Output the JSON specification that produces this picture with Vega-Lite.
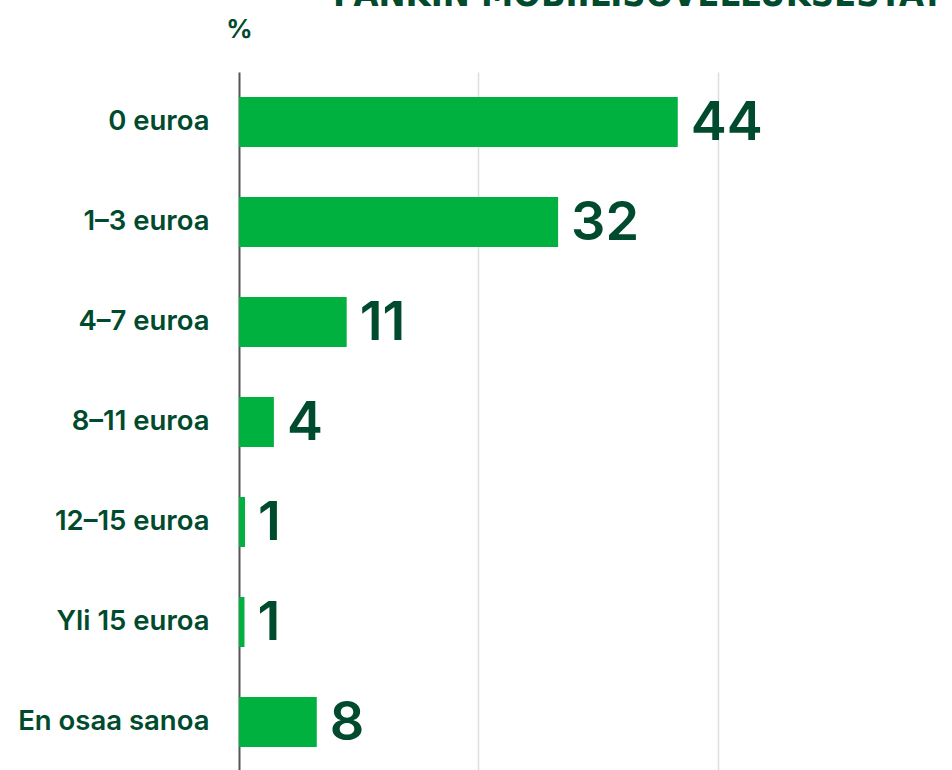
{
  "$schema": "https://vega.github.io/schema/vega-lite/v6.json",
  "width": 713,
  "height": 700,
  "autosize": {"type": "none"},
  "padding": {"left": 239, "top": 72, "right": 0, "bottom": 0},
  "background": "white",
  "title": {
    "text": "PANKIN MOBIILISOVELLUKSESTA?",
    "anchor": "start",
    "frame": "group",
    "orient": "top",
    "dx": 94,
    "dy": 29,
    "offset": 3,
    "font": "Liberation Sans Narrow, DejaVu Sans Condensed, Roboto",
    "fontSize": 36,
    "fontWeight": "bold",
    "color": "#004b2d",
    "baseline": "alphabetic"
  },
  "data": {
    "values": [
      {"vastaus": "0 euroa", "osuus": 44.0},
      {"vastaus": "1–3 euroa", "osuus": 32.0},
      {"vastaus": "4–7 euroa", "osuus": 10.8},
      {"vastaus": "8–11 euroa", "osuus": 3.5},
      {"vastaus": "12–15 euroa", "osuus": 0.6},
      {"vastaus": "Yli 15 euroa", "osuus": 0.55},
      {"vastaus": "En osaa sanoa", "osuus": 7.8}
    ]
  },
  "encoding": {
    "y": {
      "field": "vastaus",
      "type": "nominal",
      "sort": null,
      "scale": {"paddingInner": 0.5, "paddingOuter": 0.25},
      "axis": {
        "title": "%",
        "titleAngle": 0,
        "titleX": 0,
        "titleY": -35,
        "titleAlign": "center",
        "titleBaseline": "alphabetic",
        "titleFont": "Inter",
        "titleFontSize": 26,
        "titleFontWeight": "bold",
        "titleColor": "#004b2d",
        "labelFont": "Inter",
        "labelFontSize": 27.5,
        "labelFontWeight": 600,
        "labelColor": "#004b2d",
        "labelPadding": 30,
        "labelLimit": 239,
        "ticks": false,
        "domainColor": "#555555",
        "domainWidth": 2,
        "grid": false
      }
    },
    "x": {
      "field": "osuus",
      "type": "quantitative",
      "scale": {"domain": [0, 71.5], "nice": false},
      "axis": {
        "values": [24, 48],
        "labels": false,
        "ticks": false,
        "domain": false,
        "title": null,
        "grid": true,
        "gridColor": "#dddddd",
        "gridWidth": 1.5
      }
    }
  },
  "layer": [
    {"mark": {"type": "bar", "color": "#00b140"}},
    {
      "mark": {
        "type": "text",
        "align": "left",
        "baseline": "middle",
        "dx": 13,
        "dy": 2,
        "font": "Inter",
        "fontSize": 54,
        "fontWeight": 600,
        "color": "#004b2d"
      },
      "encoding": {
        "text": {"field": "osuus", "type": "quantitative", "format": ".0f"}
      }
    }
  ],
  "config": {"view": {"stroke": null}}
}
